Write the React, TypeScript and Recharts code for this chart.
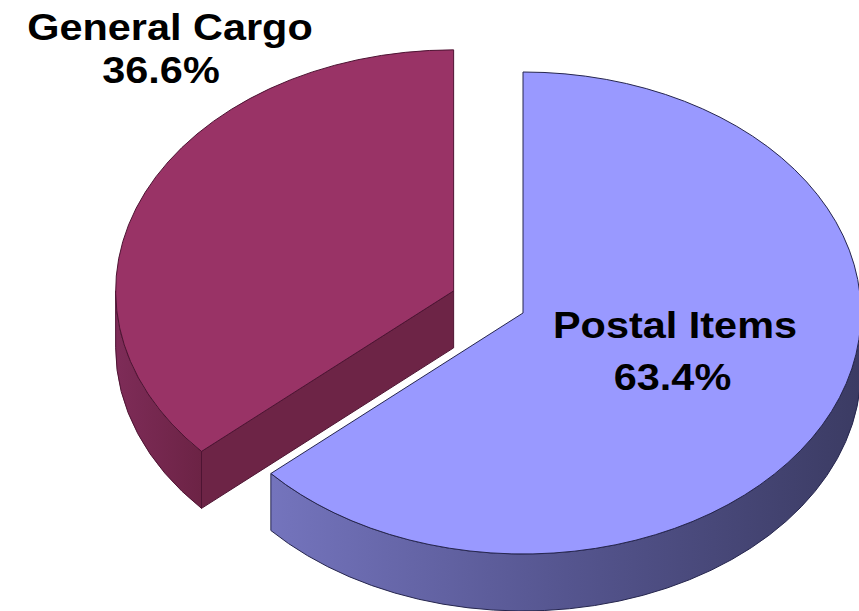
import React from 'react';
import { PieChart, Pie, Cell } from 'recharts';

const categories = ['General Cargo', 'Postal Items'];
const shares = [36.6, 63.4];
const data = categories.map((name, i) => ({ name, value: shares[i] }));

const TILT = 241 / 338;
const DEPTH = 57;

type SliceStyle = {
  top: string;
  edge: string;
  cut: string;
  side: string[];
  explode: number;
  label: number[][];
};

const STYLES: Record<string, SliceStyle> = {
  'General Cargo': {
    top: '#993366',
    edge: '#4e1433',
    cut: '#6d2446',
    side: ['#7e2c58', '#6c2345'],
    explode: 76,
    label: [[-353, -273], [-362, -230]],
  },
  'Postal Items': {
    top: '#9999ff',
    edge: '#26264e',
    cut: '#5a5a9a',
    side: ['#7474bd', '#55558f', '#3b3b63'],
    explode: 0,
    label: [[152, 25], [149.5, 77]],
  },
};

const RAD = Math.PI / 180;
const P = (cx: number, cy: number, r: number, deg: number, dy = 0): [number, number] => [
  cx + r * Math.cos(deg * RAD),
  cy - r * TILT * Math.sin(deg * RAD) + dy,
];
const f = (p: [number, number]) => `${p[0].toFixed(2)},${p[1].toFixed(2)}`;

const renderSlice = (props: any) => {
  const { cx, cy, outerRadius, startAngle, endAngle, payload, index } = props;
  const name: string = payload?.name ?? props.name;
  const st = STYLES[name];
  const lo = Math.min(startAngle, endAngle);
  const hi = Math.max(startAngle, endAngle);
  const mid = (lo + hi) / 2;
  const r = outerRadius;
  const ry = r * TILT;
  const ox = cx + st.explode * Math.cos(mid * RAD);
  const oy = cy - st.explode * TILT * Math.sin(mid * RAD);
  const C: [number, number] = [ox, oy];
  const CD: [number, number] = [ox, oy + DEPTH];

  const faces: React.ReactNode[] = [];
  const cutFace = (deg: number, key: string) => {
    const a = P(ox, oy, r, deg);
    const b = P(ox, oy, r, deg, DEPTH);
    faces.push(
      <path
        key={key}
        d={`M${f(C)} L${f(a)} L${f(b)} L${f(CD)} Z`}
        fill={st.cut}
        stroke={st.edge}
        strokeWidth={1}
        strokeLinejoin="round"
      />
    );
  };
  if (Math.cos(hi * RAD) < -1e-6) cutFace(hi, 'cut-hi');
  if (Math.cos(lo * RAD) > 1e-6) cutFace(lo, 'cut-lo');

  const gradId = `side-grad-${index}`;
  for (let k = -1; k <= 1; k++) {
    const s = Math.max(lo, 180 + 360 * k);
    const e = Math.min(hi, 360 + 360 * k);
    if (e > s) {
      const a = P(ox, oy, r, s);
      const b = P(ox, oy, r, e);
      const bd = P(ox, oy, r, e, DEPTH);
      const ad = P(ox, oy, r, s, DEPTH);
      faces.push(
        <path
          key={`side-${k}`}
          d={`M${f(a)} A${r},${ry} 0 0 0 ${f(b)} L${f(bd)} A${r},${ry} 0 0 1 ${f(ad)} Z`}
          fill={`url(#${gradId})`}
          stroke={st.edge}
          strokeWidth={1}
          strokeLinejoin="round"
        />
      );
    }
  }

  const a0 = P(ox, oy, r, lo);
  const a1 = P(ox, oy, r, hi);
  const large = hi - lo > 180 ? 1 : 0;
  const topPath = `M${f(C)} L${f(a0)} A${r},${ry} 0 ${large} 0 ${f(a1)} Z`;

  const pct = `${Number(payload?.value ?? props.value).toFixed(1)}%`;
  const textStyle = {
    fontFamily: '"Liberation Sans", Arial, Helvetica, sans-serif',
    fontWeight: 700,
    fontSize: 37,
    fill: '#000000',
  } as React.CSSProperties;

  return (
    <g key={`slice-${index}`}>
      <defs>
        <linearGradient id={gradId} x1="0" y1="0" x2="1" y2="0">
          {st.side.map((c, i) => (
            <stop key={i} offset={st.side.length === 1 ? 0 : i / (st.side.length - 1)} stopColor={c} />
          ))}
        </linearGradient>
      </defs>
      {faces}
      <path d={topPath} fill={st.top} stroke={st.edge} strokeWidth={1} strokeLinejoin="round" />
      <g transform={`translate(${cx + st.label[0][0]},${cy + st.label[0][1]}) scale(1.12,1)`}>
        <text x={0} y={0} textAnchor="middle" style={textStyle}>
          {name}
        </text>
      </g>
      <g transform={`translate(${cx + st.label[1][0]},${cy + st.label[1][1]}) scale(1.12,1)`}>
        <text x={0} y={0} textAnchor="middle" style={textStyle}>
          {pct}
        </text>
      </g>
    </g>
  );
};

export default function App() {
  return (
    <div style={{ position: 'absolute', left: 0, top: 0, width: 859, height: 611, background: '#ffffff' }}>
      <PieChart width={859} height={611} margin={{ top: 0, right: 0, bottom: 0, left: 0 }}>
        <Pie
          data={data}
          dataKey="value"
          nameKey="name"
          cx={523}
          cy={313}
          innerRadius={0}
          outerRadius={338}
          startAngle={90}
          endAngle={450}
          paddingAngle={0}
          stroke="none"
          fill="none"
          label={renderSlice}
          labelLine={false}
          isAnimationActive={false}
        >
          {data.map((d) => (
            <Cell key={d.name} fill="none" stroke="none" />
          ))}
        </Pie>
      </PieChart>
    </div>
  );
}
